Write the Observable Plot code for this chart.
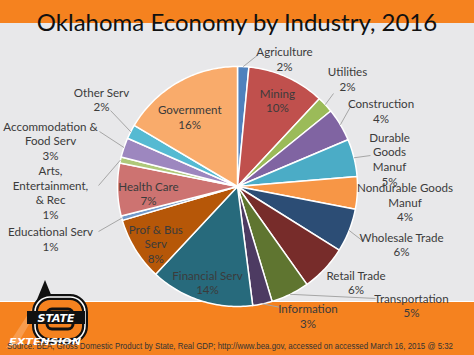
<!DOCTYPE html>
<html><head><meta charset="utf-8">
<script src="https://cdn.jsdelivr.net/npm/d3@7"></script>
<script src="https://cdn.jsdelivr.net/npm/@observablehq/plot@0.6"></script>
<style>
html,body{margin:0;padding:0;background:#e8e8ea;}
#wrap{position:relative;width:474px;height:355px;overflow:hidden;background:#e8e8ea;font-family:Lato,sans-serif;}
#topband{position:absolute;left:0;top:0;width:474px;height:23px;background:#f5821f;}
#botband{position:absolute;left:0;top:301px;width:474px;height:54px;background:#f5821f;border-top:1px solid #fff;}
#title{position:absolute;left:0;top:6px;width:474px;text-align:center;font-size:24px;color:#111;line-height:32px;}
#chart{position:absolute;left:0;top:0;}
#logo{position:absolute;left:0;top:276px;}
#source{position:absolute;left:0;top:337px;}
</style></head>
<body>
<div id="wrap">
  <div id="topband"></div>
  <div id="botband"></div>
  <svg id="logo" width="100" height="79">
    <polygon points="45,4 36,26 54,26" fill="#111"/>
    <polygon points="36,26 6,72 15,72 40,30" fill="#f9a25a" opacity="0.8"/>
    <rect x="35" y="21" width="50" height="44" rx="15" fill="#f5821f" stroke="#111" stroke-width="6"/>
    <rect x="35" y="21" width="50" height="44" rx="15" fill="none" stroke="#fff" stroke-width="1.5"/>
    <rect x="47" y="33" width="26" height="20" rx="5" fill="none" stroke="#111" stroke-width="3"/>
    <rect x="27" y="35" width="58" height="13" fill="#111"/>
    <text x="56" y="46" text-anchor="middle" font-family="DejaVu Sans" font-weight="bold" font-style="italic" font-size="11" fill="#fff">STATE</text>
    <text x="9" y="69" font-family="DejaVu Sans" font-weight="bold" font-style="italic" font-size="9" fill="#fff" textLength="72" lengthAdjust="spacingAndGlyphs">EXTENSION</text>
  </svg>
  <div id="title">Oklahoma Economy by Industry, 2016</div>
  <div id="chart"></div>
  <svg id="source" width="474" height="18">
    <text x="7" y="12" font-family="Liberation Sans" font-size="8.4" fill="#333" textLength="446" lengthAdjust="spacingAndGlyphs">Source: BEA, Gross Domestic Product by State, Real GDP; http://www.bea.gov, accessed on accessed March 16, 2015 @ 5:32</text>
  </svg>
</div>
<script>
// ---- data ----
const industries = ["Agriculture","Mining","Utilities","Construction","Durable Goods Manuf","Nondurable Goods Manuf","Wholesale Trade","Retail Trade","Transportation","Information","Financial Serv","Prof & Bus Serv","Educational Serv","Health Care","Arts, Entertainment, & Rec","Accommodation & Food Serv","Other Serv","Government"];
const shares = [1.5,10.3,2.2,4.4,5.0,4.3,5.8,6.2,5.1,2.6,13.8,8.4,0.6,7.0,0.8,2.6,1.9,16.3];
const pctLabels = ["2%","10%","2%","4%","5%","4%","6%","6%","5%","3%","14%","8%","1%","7%","1%","3%","2%","16%"];
const labelText = ["Agriculture","Mining","Utilities","Construction","Durable\nGoods\nManuf","Nondurable Goods\nManuf","Wholesale Trade","Retail Trade","Transportation","Information","Financial Serv","Prof & Bus\nServ","Educational Serv","Health Care","Arts,\nEntertainment,\n& Rec","Accommodation &\nFood Serv","Other Serv","Government"];
const colors = ["#4f81bd","#c0504d","#9bbb59","#8064a2","#4bacc6","#f79646","#2c4d75","#772c2a","#5f7530","#4d3b62","#276a7c","#b65708","#729aca","#cd7371","#afc97a","#9d87bf","#55bad2","#f9ab6b"];

// ---- layout (in pie-radius units, relative to the pie centre) ----
const labelXY = [[0.392,1.063],[0.333,0.717],[0.917,0.896],[1.196,0.629],[1.267,0.229],[1.396,-0.129],[1.367,-0.483],[0.9875,-0.8],[1.45,-0.989],[0.5875,-1.078],[-0.25,-0.8],[-0.681,-0.475],[-1.558,-0.4375],[-0.742,-0.058],[-1.558,-0.05],[-1.558,0.383],[-1.133,0.725],[-0.398,0.581]];
const leaderEnd = [[0.164,1.092],null,[0.8,0.775],[0.9475,0.675],[1.108,0.258],null,[1.039,-0.45],null,[1.15,-0.933],[0.35,-1.006],null,null,[-1.158,-0.375],null,[-1.158,0.008],[-1.15,0.458],[-1.058,0.633],null];

const arcs = d3.pie().sort(null).value(d => d)(shares);
const slicePts = [];
arcs.forEach((a, i) => {
  const n = Math.max(2, Math.ceil((a.endAngle - a.startAngle) / 0.02));
  slicePts.push({name: industries[i], x: 0, y: 0});
  for (let k = 0; k <= n; k++) {
    const t = a.startAngle + (a.endAngle - a.startAngle) * k / n;
    slicePts.push({name: industries[i], x: Math.sin(t), y: Math.cos(t)});
  }
});
const leaders = [];
arcs.forEach((a, i) => {
  if (!leaderEnd[i]) return;
  const m = (a.startAngle + a.endAngle) / 2;
  leaders.push({x1: Math.sin(m), y1: Math.cos(m), x2: leaderEnd[i][0], y2: leaderEnd[i][1]});
});
const labels = industries.map((d, i) => ({text: labelText[i] + "\n" + pctLabels[i], x: labelXY[i][0], y: labelXY[i][1]}));

const R = 120, cx = 237, cy = 186, W = 474, H = 355;
const chart = Plot.plot({
  width: W, height: H,
  margin: 0, marginTop: 0, marginRight: 0, marginBottom: 0, marginLeft: 0,
  style: {background: "transparent", overflow: "visible"},
  x: {domain: [-cx / R, (W - cx) / R], range: [0, W], axis: null},
  y: {domain: [-(H - cy) / R, cy / R], range: [H, 0], axis: null},
  color: {domain: industries, range: colors},
  marks: [
    Plot.line(slicePts, {x: "x", y: "y", z: "name", fill: "name", stroke: "white", strokeWidth: 1.5, curve: "linear-closed", strokeLinejoin: "round"}),
    Plot.link(leaders, {x1: "x1", y1: "y1", x2: "x2", y2: "y2", stroke: "#a6a6a6", strokeWidth: 1}),
    Plot.text(labels, {x: "x", y: "y", text: "text", fill: "#3b3b3b", fontSize: 11.6, lineHeight: 1.26, fontFamily: "Lato", textAnchor: "middle", lineAnchor: "middle"})
  ]
});
document.getElementById("chart").appendChild(chart);
</script>
</body></html>
